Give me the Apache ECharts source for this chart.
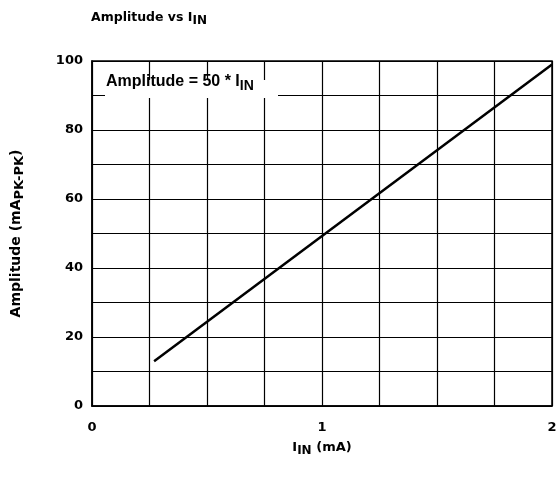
<!DOCTYPE html>
<html>
<head>
<meta charset="utf-8">
<script src="https://cdn.jsdelivr.net/npm/echarts@6/dist/echarts.min.js"></script>
<style>html,body{margin:0;padding:0;background:#fff}#c{width:556px;height:478px}</style>
</head>
<body>
<div id="c"></div>
<script>
const lineX = [0.27, 2.0];
const lineY = [13, 99];
const xTickLabels = [0, 1, 2];
const yTickLabels = [0, 20, 40, 60, 80, 100];

const font = 'DejaVu Sans, sans-serif';
const font2 = 'Liberation Sans, Arial, sans-serif';
const subRich = (fs) => ({ sub: { fontFamily: font, fontWeight: 'bold', fontSize: fs, verticalAlign: 'bottom', padding: [Math.round(fs*0.55),0,0,0], color: '#000' } });
const chart = echarts.init(document.getElementById('c'));
chart.setOption({
  backgroundColor: '#fff',
  animation: false,
  title: {
    text: 'Amplitude vs I{sub|IN}',
    left: 86, top: 3,
    textStyle: {
      fontFamily: font, fontWeight: 'bold', fontSize: 12.5, color: '#000',
      rich: subRich(12)
    }
  },
  grid: { left: 92, right: 4, top: 61, bottom: 72, show: true, borderColor: '#000', borderWidth: 1.5, outerBoundsMode: 'none', containLabel: false },
  xAxis: {
    type: 'value', min: 0, max: 2, interval: 0.25,
    name: 'I{sub|IN} (mA)', nameLocation: 'middle', nameGap: 32,
    nameTextStyle: {
      fontFamily: font, fontWeight: 'bold', fontSize: 13, color: '#000',
      rich: subRich(12)
    },
    axisLine: { lineStyle: { color: '#000', width: 1.5 } },
    axisTick: { show: false },
    splitLine: { lineStyle: { color: '#000', width: 1.2 } },
    axisLabel: {
      fontFamily: font, fontWeight: 'bold', fontSize: 13, color: '#000', margin: 15,
      formatter: v => xTickLabels.includes(v) ? String(v) : ''
    }
  },
  yAxis: {
    type: 'value', min: 0, max: 100, interval: 10,
    name: 'Amplitude (mA{sub|PK-PK})', nameLocation: 'middle', nameGap: 66, nameRotate: 90,
    nameTextStyle: {
      fontFamily: font, fontWeight: 'bold', fontSize: 14, color: '#000',
      rich: subRich(13)
    },
    axisLine: { show: true, lineStyle: { color: '#000', width: 1.5 } },
    axisTick: { show: false },
    splitLine: { lineStyle: { color: '#000', width: 1.2 } },
    axisLabel: {
      fontFamily: font, fontWeight: 'bold', fontSize: 13, color: '#000', margin: 9,
      formatter: v => yTickLabels.includes(v) ? String(v) : ''
    }
  },
  graphic: [
    { type: 'rect', left: 105, top: 80, shape: { width: 173, height: 18 }, style: { fill: '#fff' }, z: 100 },
    { type: 'text', x: 106, y: 82, z: 101,
      style: {
        text: 'Amplitude = 50 * I{sub|IN}',
        font: 'bold 16px ' + font2, fill: '#000', verticalAlign: 'middle',
        rich: { sub: { font: 'bold 14px ' + font2, fill: '#000', verticalAlign: 'bottom', padding: [8,0,0,0] } }
      }
    }
  ],
  series: [{
    type: 'line', showSymbol: false, silent: true,
    lineStyle: { color: '#000', width: 2.5 },
    data: lineX.map((x, i) => [x, lineY[i]])
  }]
});
</script>
</body>
</html>
